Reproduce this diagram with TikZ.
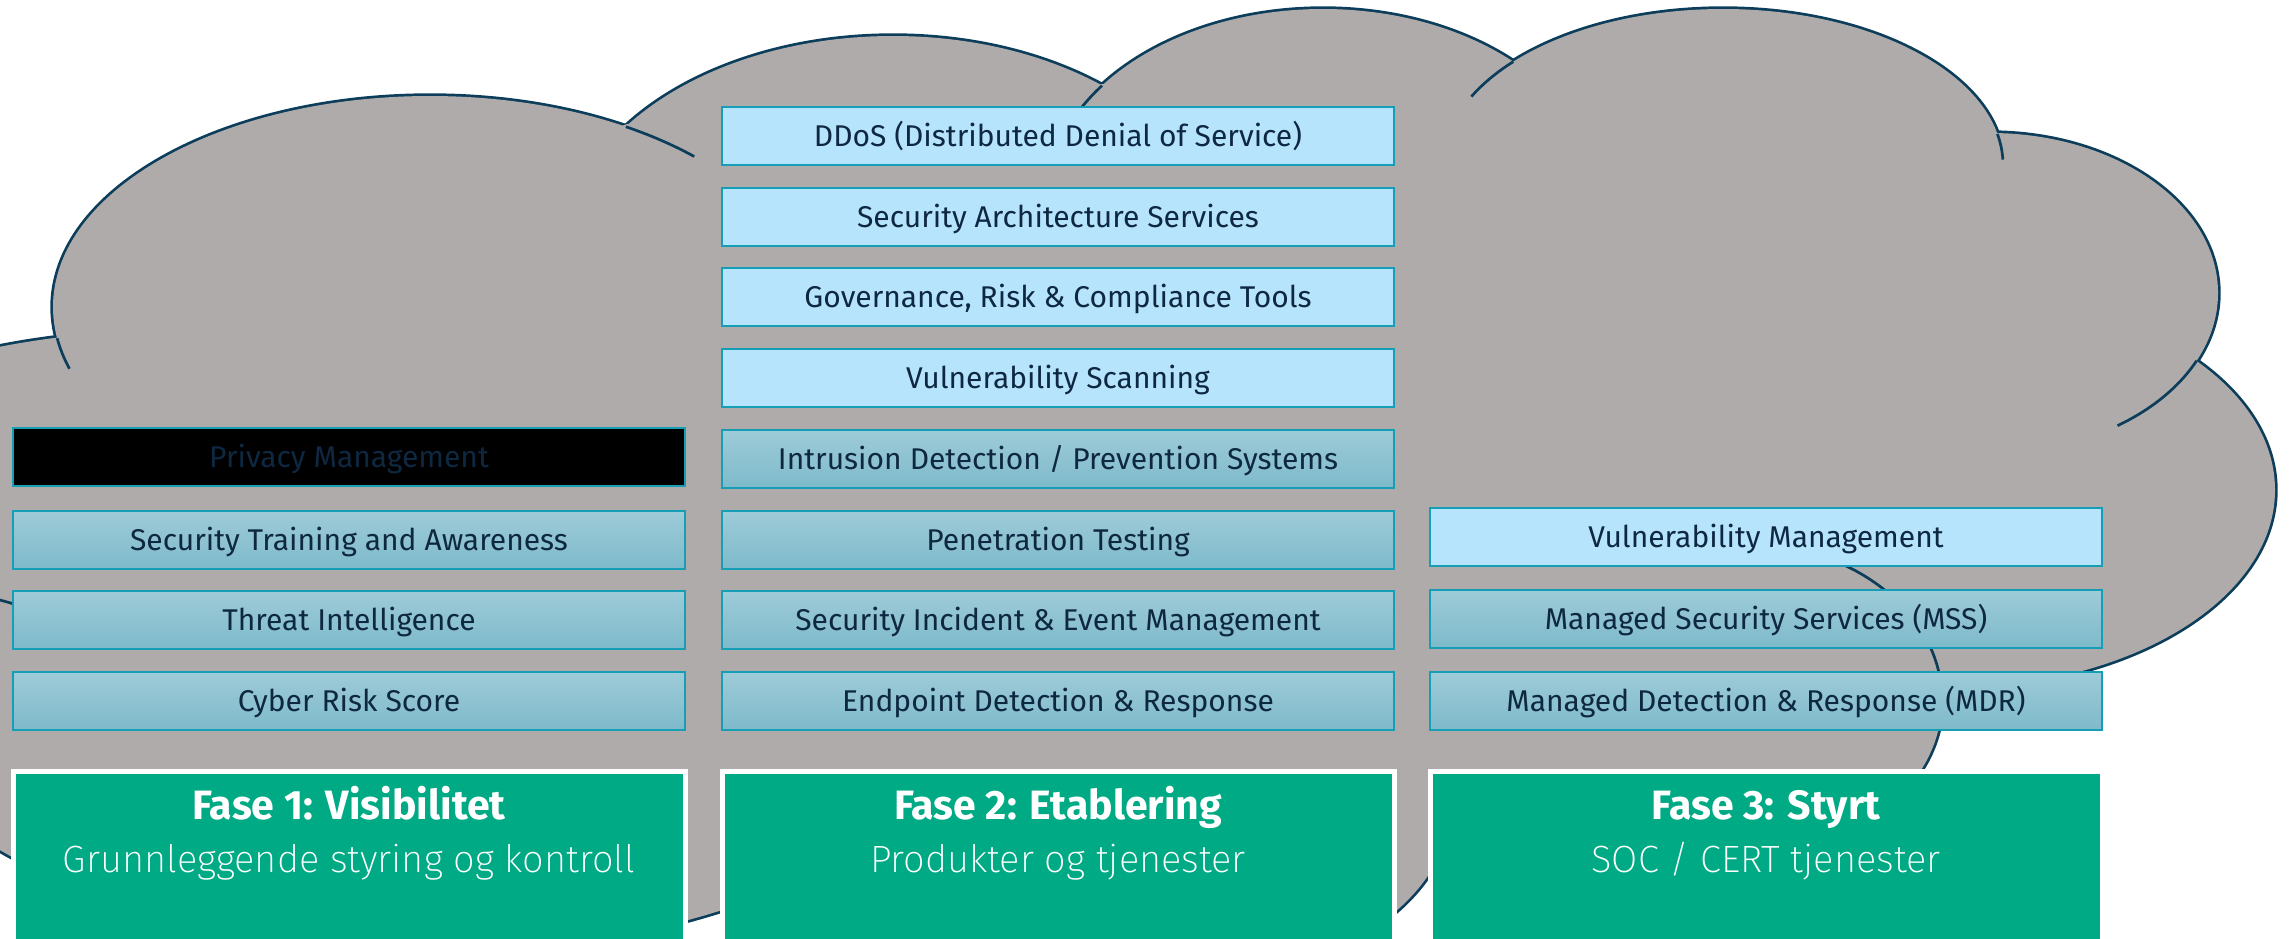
\documentclass[tikz,border=0pt]{standalone}
\usepackage{fontspec}
\setmainfont{Fira Sans}
\newfontfamily\lightfont{Fira Sans ExtraLight}

\definecolor{cloudgray}{RGB}{175,171,170}
\definecolor{cloudline}{RGB}{12,62,92}
\definecolor{boxline}{RGB}{22,158,182}
\definecolor{boxlight}{RGB}{183,228,253}
\definecolor{boxtop}{RGB}{158,203,216}
\definecolor{boxbottom}{RGB}{126,186,203}
\definecolor{boxtext}{RGB}{14,40,65}
\definecolor{fasegreen}{RGB}{0,170,132}

\tikzset{
  item/.style={draw=boxline, line width=2pt, minimum width=672pt, minimum height=58pt,
    inner sep=0pt, text=boxtext, font=\fontsize{30}{36}\selectfont,
    text height=20.7pt, text depth=0pt},
  lightbox/.style={item, fill=boxlight},
  shadebox/.style={item, top color=boxtop, bottom color=boxbottom},
  darkbox/.style={item, fill=black},
  fase/.style={draw=white, line width=5pt, fill=fasegreen, minimum width=672pt,
    minimum height=260pt, anchor=north},
  fasetitle/.style={text=white, font=\fontsize{41}{48}\selectfont\bfseries, anchor=base},
  fasesub/.style={text=white, font=\lightfont\fontsize{38}{44}\selectfont, anchor=base},
  cloudedge/.style={draw=cloudline, line width=5.4pt},
  cloudtail/.style={draw=cloudline, line width=2.7pt}
}

\begin{document}
\begin{tikzpicture}[x=1pt, y=-1pt]
    \useasboundingbox (0,0) rectangle (2290,938);
    \clip (0,0) rectangle (2290,938);

    % Cloud: outline of every lobe first
    \foreach \cx/\cy/\rx/\ry in {180/560/480/230, 430/307/377/211, 893/250/327/214,
        1323/200/276/191, 1723/165/280/156, 1990/293/228/160, 1950/490/325/198,
        1742/700/200/157, 1120/808/330/188, 430/613/600/340} {
        \draw[cloudedge] (\cx,\cy) ellipse [x radius=\rx, y radius=\ry];
    }

    % Fill the lobes and the middle again, so only the outer edge is left
    \fill[cloudgray] (-60,759) -- (58,338) -- (627,124) -- (1104,84) -- (1518,62)
        -- (1997,134) -- (2193,360) -- (1939,689) -- (1707,855) -- (1445,841)
        -- (828,875) -- cycle;
    \foreach \cx/\cy/\rx/\ry in {180/560/480/230, 430/307/377/211, 893/250/327/214,
        1323/200/276/191, 1723/165/280/156, 1990/293/228/160, 1950/490/325/198,
        1742/700/200/157, 1120/808/330/188, 430/613/600/340} {
        \fill[cloudgray] (\cx,\cy) ellipse [x radius=\rx, y radius=\ry];
    }

    % Inner tails where two lobes meet
    \foreach \cx/\cy/\rx/\ry/\a/\b in {430/307/377/211/171.5/163, 430/307/377/211/301.3/314.5,
        1323/200/276/191/216.8/209, 1723/165/280/156/221.5/206, 1723/165/280/156/348.5/358,
        1990/293/228/160/25/56, 1742/700/200/157/301.3/356} {
        \draw[cloudtail] ({\cx+\rx*cos(\a)},{\cy+\ry*sin(\a)})
            arc[start angle=\a, end angle=\b, x radius=\rx, y radius=\ry];
    }
    \draw[cloudtail] (-40,592) to[bend left=4] (14,604);

    % Phase 1 column
    \node[darkbox]  (p1) at (349,457) {Privacy Management};
    \node[shadebox] (p2) at (349,540) {Security Training and Awareness};
    \node[shadebox] (p3) at (349,620) {Threat Intelligence};
    \node[shadebox] (p4) at (349,701) {Cyber Risk Score};

    % Phase 2 column
    \node[lightbox] (e1) at (1058,136) {DDoS (Distributed Denial of Service)};
    \node[lightbox] (e2) at (1058,217) {Security Architecture Services};
    \node[lightbox] (e3) at (1058,297) {Governance, Risk \& Compliance Tools};
    \node[lightbox] (e4) at (1058,378) {Vulnerability Scanning};
    \node[shadebox] (e5) at (1058,459) {Intrusion Detection / Prevention Systems};
    \node[shadebox] (e6) at (1058,540) {Penetration Testing};
    \node[shadebox] (e7) at (1058,620) {Security Incident \& Event Management};
    \node[shadebox] (e8) at (1058,701) {Endpoint Detection \& Response};

    % Phase 3 column
    \node[lightbox] (s1) at (1766,537) {Vulnerability Management};
    \node[shadebox] (s2) at (1766,619) {Managed Security Services (MSS)};
    \node[shadebox] (s3) at (1766,701) {Managed Detection \& Response (MDR)};

    % Green phase boxes
    \node[fase] (f1) at (349,769) {};
    \node[fase] (f2) at (1058,769) {};
    \node[fase] (f3) at (1766,769) {};
    \node[fasetitle] (t1) at (349,819) {Fase 1: Visibilitet};
    \node[fasesub]   (u1) at (349,872) {Grunnleggende styring og kontroll};
    \node[fasetitle] (t2) at (1058,819) {Fase 2: Etablering};
    \node[fasesub]   (u2) at (1058,872) {Produkter og tjenester};
    \node[fasetitle] (t3) at (1766,819) {Fase 3: Styrt};
    \node[fasesub]   (u3) at (1766,872) {SOC / CERT tjenester};

\end{tikzpicture}
\end{document}
